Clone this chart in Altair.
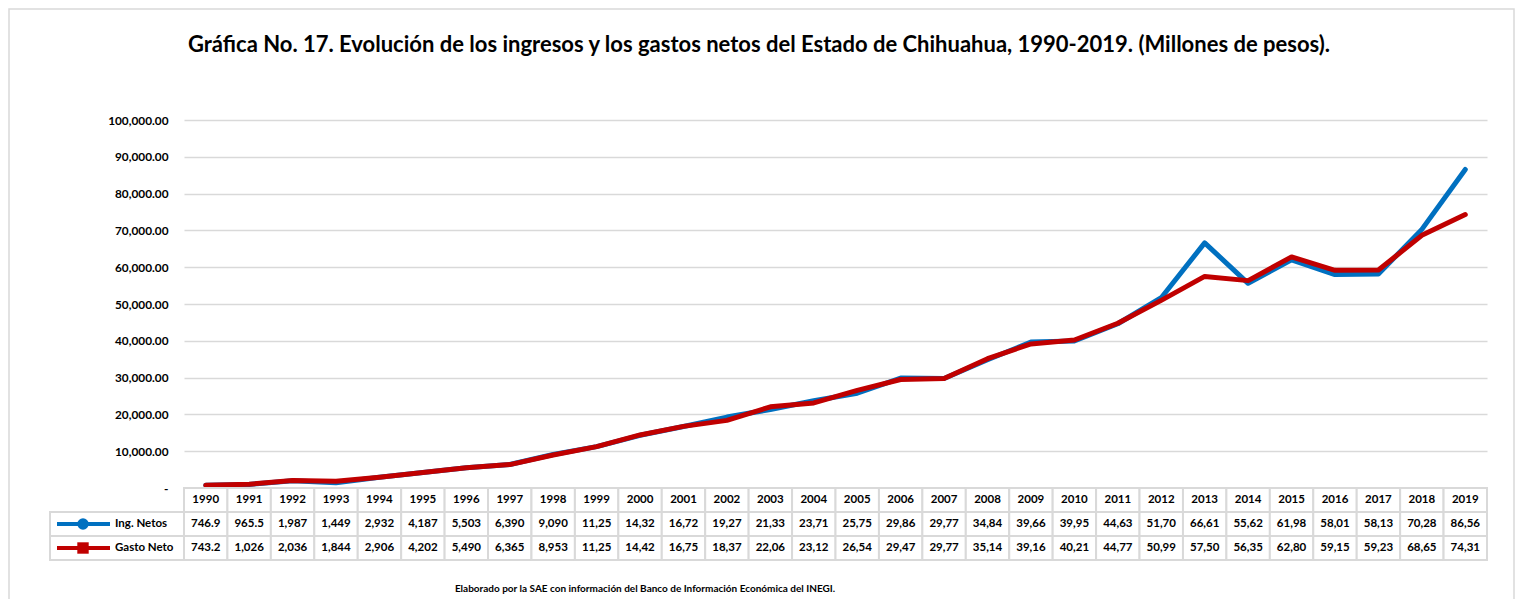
import altair as alt
import pandas as pd

years = list(range(1990, 2020))
ing_netos = [746.9, 965.5, 1987, 1449, 2932, 4187, 5503, 6390, 9090, 11250,
             14320, 16720, 19270, 21330, 23710, 25750, 29860, 29770, 34840, 39660,
             39950, 44630, 51700, 66610, 55620, 61980, 58010, 58130, 70280, 86560]
gasto_neto = [743.2, 1026, 2036, 1844, 2906, 4202, 5490, 6365, 8953, 11250,
              14420, 16750, 18370, 22060, 23120, 26540, 29470, 29770, 35140, 39160,
              40210, 44770, 50990, 57500, 56350, 62800, 59150, 59230, 68650, 74310]
series_names = ["Ing. Netos", "Gasto Neto"]
series_colors = ["#0070C0", "#C00000"]
series_shapes = ["circle", "square"]
y_ticks = [0, 10000, 20000, 30000, 40000, 50000, 60000, 70000, 80000, 90000, 100000]
title_text = ("Gráfica No. 17. Evolución de los ingresos y los gastos netos del Estado de "
              "Chihuahua, 1990-2019. (Millones de pesos).")
footer_text = "Elaborado por la SAE con información del Banco de Información Económica del INEGI."

FONT = "Lato"
W, H = 1303, 368
GRID = "#d9d9d9"


def cell_label(v):
    if v < 1000:
        return f"{v:.1f}"
    return f"{v:,.0f}"[:5]


series_values = [ing_netos, gasto_neto]
rows = []
for name, vals in zip(series_names, series_values):
    for y, v in zip(years, vals):
        rows.append({"year": y, "serie": name, "value": v})
long = pd.DataFrame(rows)

cells = []
for y in years:
    cells.append({"year": y, "x1": y - 0.5, "x2": y + 0.5, "r1": 0, "r2": 1, "rm": 0.5, "label": str(y)})
for i, (name, vals) in enumerate(zip(series_names, series_values)):
    for y, v in zip(years, vals):
        cells.append({"year": y, "x1": y - 0.5, "x2": y + 0.5, "r1": i + 1, "r2": i + 2,
                      "rm": i + 1.5, "label": cell_label(v)})
cells = pd.DataFrame(cells)

legend_df = pd.DataFrame({"serie": series_names, "r1": [1, 2], "r2": [2, 3], "rm": [1.5, 2.5]})

x_scale = alt.Scale(domain=[1989.5, 2019.5], nice=False, zero=False)
t_scale = alt.Scale(domain=[0, 3], range=[368, 440], nice=False, zero=False)
color_scale = alt.Scale(domain=series_names, range=series_colors)

# frame
frame = alt.Chart(pd.DataFrame({"a": [0]})).mark_rect(
    fillOpacity=0, stroke=GRID, strokeWidth=1.5
).encode(x=alt.value(-175), x2=alt.value(1330), y=alt.value(-111), y2=alt.value(520))

title = alt.Chart(pd.DataFrame({"t": [title_text]})).mark_text(
    font=FONT, fontWeight="bold", fontSize=22, color="black", align="center", baseline="middle"
).encode(x=alt.value(575), y=alt.value(-75), text="t:N")

footer = alt.Chart(pd.DataFrame({"t": [footer_text]})).mark_text(
    font=FONT, fontWeight="bold", fontSize=10, color="black", align="center", baseline="middle"
).encode(x=alt.value(461), y=alt.value(469), text="t:N")

y_axis = alt.Axis(values=y_ticks, orient="left",
                  labelExpr="datum.value == 0 ? '-' : format(datum.value, ',.2f')",
                  grid=True, gridColor=GRID, gridWidth=1.5, ticks=False, domain=False,
                  labelPadding=16, labelFont=FONT, labelFontWeight="bold", labelFontSize=11.8,
                  labelColor="black", title=None)

line_blue = alt.Chart(long).transform_filter(alt.datum.serie == series_names[0]).mark_line(
    strokeWidth=5, strokeCap="round", strokeJoin="round"
).encode(
    x=alt.X("year:Q", scale=x_scale, axis=None),
    y=alt.Y("value:Q", scale=alt.Scale(domain=[0, 100000], nice=False), axis=y_axis),
    color=alt.Color("serie:N", scale=color_scale, legend=None),
)
line_red = alt.Chart(long).transform_filter(alt.datum.serie == series_names[1]).mark_line(
    strokeWidth=5, strokeCap="round", strokeJoin="round"
).encode(
    x=alt.X("year:Q", scale=x_scale, axis=None),
    y=alt.Y("value:Q", scale=alt.Scale(domain=[0, 100000], nice=False), axis=None),
    color=alt.Color("serie:N", scale=color_scale, legend=None),
)

table_rects = alt.Chart(cells).mark_rect(fill="white", stroke=GRID, strokeWidth=2).encode(
    x=alt.X("x1:Q", scale=x_scale, axis=None), x2="x2:Q",
    y=alt.Y("r1:Q", scale=t_scale, axis=None), y2="r2:Q",
)
table_text = alt.Chart(cells).mark_text(
    font=FONT, fontWeight="bold", fontSize=11.5, color="black", align="center", baseline="middle"
).encode(
    x=alt.X("year:Q", scale=x_scale, axis=None),
    y=alt.Y("rm:Q", scale=t_scale, axis=None),
    text="label:N",
)

legend_rects = alt.Chart(legend_df).mark_rect(fill="white", stroke=GRID, strokeWidth=2).encode(
    x=alt.value(-134), x2=alt.value(0),
    y=alt.Y("r1:Q", scale=t_scale, axis=None), y2="r2:Q",
)
legend_rule = alt.Chart(legend_df).mark_rule(strokeWidth=4).encode(
    x=alt.value(-127), x2=alt.value(-74),
    y=alt.Y("rm:Q", scale=t_scale, axis=None),
    color=alt.Color("serie:N", scale=color_scale, legend=None),
)
legend_pt = alt.Chart(legend_df).mark_point(filled=True, opacity=1, size=130).encode(
    x=alt.value(-101),
    y=alt.Y("rm:Q", scale=t_scale, axis=None),
    color=alt.Color("serie:N", scale=color_scale, legend=None),
    shape=alt.Shape("serie:N", scale=alt.Scale(domain=series_names, range=series_shapes), legend=None),
)
legend_text = alt.Chart(legend_df).mark_text(
    font=FONT, fontWeight="bold", fontSize=11.5, color="black", align="left", baseline="middle"
).encode(
    x=alt.value(-69),
    y=alt.Y("rm:Q", scale=t_scale, axis=None),
    text="serie:N",
)

chart = alt.layer(
    frame, title, footer, line_blue, line_red,
    table_rects, table_text, legend_rects, legend_rule, legend_pt, legend_text,
).resolve_scale(y="independent").properties(
    width=W, height=H,
    background="white",
    padding={"left": 176, "top": 112, "right": 28, "bottom": 111},
    autosize=alt.AutoSizeParams(type="none"),
).configure_view(strokeWidth=0, stroke="transparent")

chart.save("out.html", embed_options={"renderer": "svg", "actions": False})
